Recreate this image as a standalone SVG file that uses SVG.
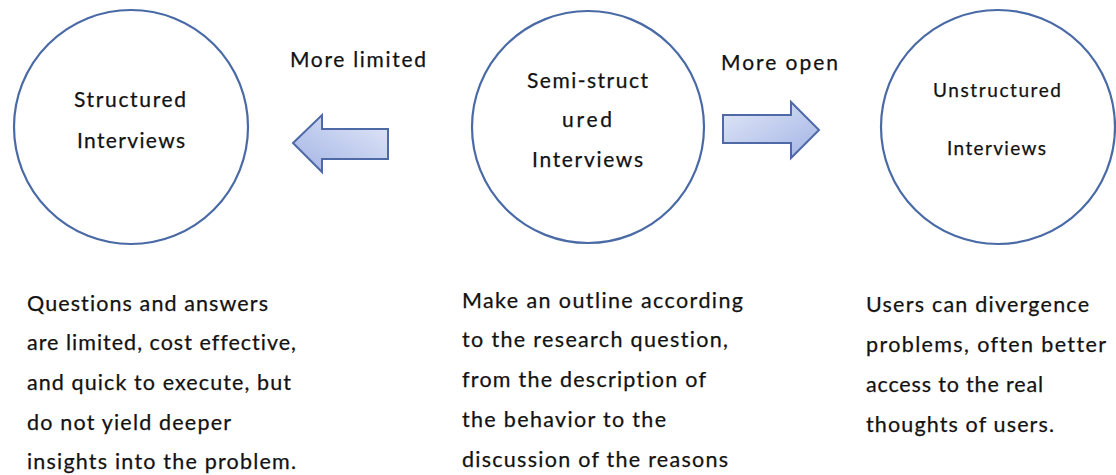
<svg xmlns="http://www.w3.org/2000/svg" width="1116" height="475" viewBox="0 0 1116 475">
  <defs>
    <linearGradient id="gradLeft" x1="1" y1="0" x2="0" y2="1">
      <stop offset="0" stop-color="#e2e8f8"/>
      <stop offset="1" stop-color="#a3b4e5"/>
    </linearGradient>
    <linearGradient id="gradRight" x1="0" y1="0" x2="1" y2="1">
      <stop offset="0" stop-color="#e2e8f8"/>
      <stop offset="1" stop-color="#a3b4e5"/>
    </linearGradient>
  </defs>
  <style>
    .circle { fill: #ffffff; stroke: #4a6aa6; stroke-width: 2.2; }
    .arrow { stroke: #4e69a6; stroke-width: 2; stroke-linejoin: miter; }
    text { font-family: Lato, "Open Sans", "Liberation Sans", sans-serif; fill: #121212; stroke: #121212; stroke-width: 0.25; font-variant-ligatures: none; }
    .node { font-size: 21px; }
    .small { font-size: 19px; }
    .label { font-size: 21px; }
    .desc { font-size: 21.5px; }
  </style>
  <rect width="1116" height="475" fill="#ffffff"/>

  <!-- nodes -->
  <g id="structured">
    <circle class="circle" cx="131" cy="127" r="117"/>
    <text class="node" x="74" y="107" textLength="112" lengthAdjust="spacing">Structured</text>
    <text class="node" x="77" y="148" textLength="108" lengthAdjust="spacing">Interviews</text>
  </g>
  <g id="semi-structured">
    <circle class="circle" cx="588" cy="127" r="116"/>
    <text class="node" x="527" y="88" textLength="121" lengthAdjust="spacing">Semi-struct</text>
    <text class="node" x="562" y="127" textLength="50" lengthAdjust="spacing">ured</text>
    <text class="node" x="532" y="167" textLength="111" lengthAdjust="spacing">Interviews</text>
  </g>
  <g id="unstructured">
    <circle class="circle" cx="998" cy="127" r="117"/>
    <text class="small" x="933" y="97" textLength="128" lengthAdjust="spacing">Unstructured</text>
    <text class="small" x="947" y="155" textLength="99" lengthAdjust="spacing">Interviews</text>
  </g>

  <!-- connectors -->
  <g id="connectors">
    <path class="arrow" fill="url(#gradLeft)" d="M293,143 L322,115 L322,129 L388,129 L388,159 L322,159 L322,172 Z"/>
    <path class="arrow" fill="url(#gradRight)" d="M723,115 L791,115 L791,102 L819,130 L791,158 L791,143 L723,143 Z"/>
    <text class="label" x="290" y="67" textLength="136" lengthAdjust="spacing">More limited</text>
    <text class="label" x="721" y="70" textLength="117" lengthAdjust="spacing">More open</text>
  </g>

  <!-- descriptions -->
  <g id="desc-structured">
    <text class="desc" x="27" y="311" textLength="241" lengthAdjust="spacing">Questions and answers</text>
    <text class="desc" x="27" y="350" textLength="269" lengthAdjust="spacing">are limited, cost effective,</text>
    <text class="desc" x="27" y="390" textLength="264" lengthAdjust="spacing">and quick to execute, but</text>
    <text class="desc" x="27" y="430" textLength="204" lengthAdjust="spacing">do not yield deeper</text>
    <text class="desc" x="27" y="469" textLength="269" lengthAdjust="spacing">insights into the problem.</text>
  </g>
  <g id="desc-semi">
    <text class="desc" x="462" y="308" textLength="281" lengthAdjust="spacing">Make an outline according</text>
    <text class="desc" x="462" y="347" textLength="266" lengthAdjust="spacing">to the research question,</text>
    <text class="desc" x="462" y="387" textLength="244" lengthAdjust="spacing">from the description of</text>
    <text class="desc" x="462" y="427" textLength="204" lengthAdjust="spacing">the behavior to the</text>
    <text class="desc" x="462" y="467" textLength="266" lengthAdjust="spacing">discussion of the reasons</text>
  </g>
  <g id="desc-unstructured">
    <text class="desc" x="866" y="312" textLength="223" lengthAdjust="spacing">Users can divergence</text>
    <text class="desc" x="866" y="352" textLength="240" lengthAdjust="spacing">problems, often better</text>
    <text class="desc" x="866" y="392" textLength="177" lengthAdjust="spacing">access to the real</text>
    <text class="desc" x="866" y="432" textLength="188" lengthAdjust="spacing">thoughts of users.</text>
  </g>
</svg>
